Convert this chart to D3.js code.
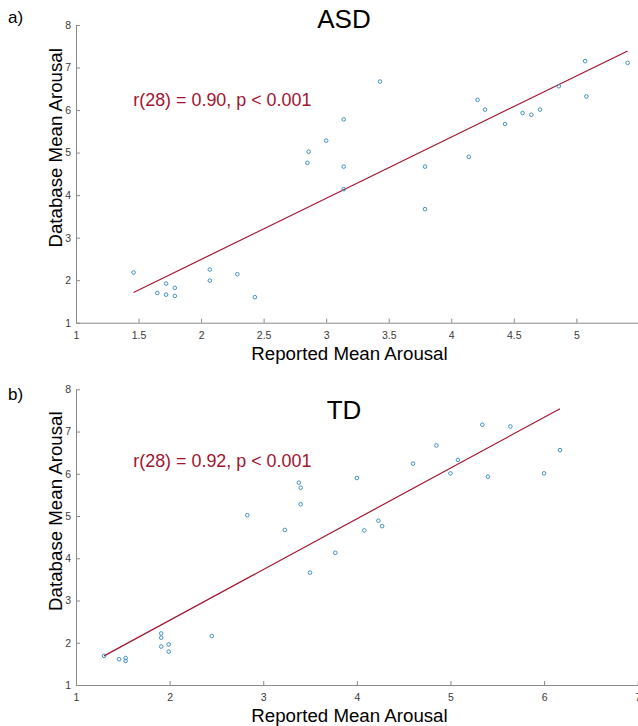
<!DOCTYPE html>
<html>
<head>
<meta charset="utf-8">
<script src="https://cdn.jsdelivr.net/npm/d3@7"></script>
<style>
  body { margin: 0; background: #fff; }
  svg { display: block; font-family: "Liberation Sans", Arial, sans-serif; }
</style>
</head>
<body>
<div id="main"></div>
<script>
// values
let asdReported = [1.46, 1.72, 1.65, 1.72, 1.79, 1.79, 2.07, 2.07, 2.29, 2.43,
  2.85, 2.86, 3.00, 3.14, 3.14, 3.14, 3.43, 3.79, 3.79, 4.14,
  4.21, 4.27, 4.43, 4.57, 4.64, 4.71, 4.86, 5.07, 5.08, 5.41];
let asdDatabase = [2.18, 1.92, 1.70, 1.66, 1.82, 1.63, 2.25, 1.99, 2.14, 1.60,
  4.76, 5.02, 5.28, 5.78, 4.67, 4.14, 6.67, 4.67, 3.67, 4.90,
  6.24, 6.01, 5.67, 5.93, 5.89, 6.01, 6.56, 7.15, 6.32, 7.11];
let asdFitX = [1.46, 5.41];
let asdFitY = [1.71, 7.39];

let tdReported = [1.30, 1.46, 1.53, 1.53, 1.91, 1.91, 1.91, 1.99, 1.99, 2.45,
  2.83, 3.23, 3.38, 3.40, 3.40, 3.50, 3.77, 4.00, 4.08, 4.23,
  4.27, 4.60, 4.85, 5.00, 5.08, 5.34, 5.40, 5.64, 6.00, 6.17];
let tdDatabase = [1.69, 1.61, 1.64, 1.57, 2.22, 2.12, 1.91, 1.96, 1.79, 2.16,
  5.02, 4.67, 5.79, 5.67, 5.28, 3.66, 4.13, 5.90, 4.66, 4.89,
  4.76, 6.24, 6.67, 6.01, 6.33, 7.16, 5.93, 7.12, 6.01, 6.56];
let tdFitX = [1.30, 6.17];
let tdFitY = [1.69, 7.54];

let asdXTicks = [1, 1.5, 2, 2.5, 3, 3.5, 4, 4.5, 5];
let tdXTicks = [1, 2, 3, 4, 5, 6, 7];
let yTicks = [1, 2, 3, 4, 5, 6, 7, 8];

let panels = [
  {tag: 'a)', title: 'ASD', stat: 'r(28) = 0.90, p < 0.001',
   xs: asdReported, ys: asdDatabase, fx: asdFitX, fy: asdFitY,
   xDomain: [1, 5.5], xTicks: asdXTicks, top: 25, bottom: 322.7, titleY: 28.3, tagY: 23, statY: 105.7},
  {tag: 'b)', title: 'TD', stat: 'r(28) = 0.92, p < 0.001',
   xs: tdReported, ys: tdDatabase, fx: tdFitX, fy: tdFitY,
   xDomain: [1, 7], xTicks: tdXTicks, top: 389.3, bottom: 685, titleY: 419.3, tagY: 400, statY: 467.3},
];

let [width, height] = [638, 726];
let svg = d3.select('#main').append('svg')
  .attr('width', width)
  .attr('height', height);

let axisColor = '#8a8a8a';
let red = '#a2142f';
let blue = '#2f86bd';
let fmt = d3.format('');

for (let p of panels) {
  let sx = d3.scaleLinear().domain(p.xDomain).range([76, p.xDomain[1] == 7 ? 637.7 : 638.9]);
  let sy = d3.scaleLinear().domain([1, 8]).range([p.bottom, p.top]);
  let g = svg.append('g');

  let xAxis = g.append('g')
    .attr('transform', `translate(0,${p.bottom})`)
    .call(d3.axisBottom(sx).tickValues(p.xTicks).tickFormat(fmt).tickSizeInner(-4).tickSizeOuter(0).tickPadding(8.5));
  let yAxis = g.append('g')
    .attr('transform', `translate(76,0)`)
    .call(d3.axisLeft(sy).tickValues(yTicks).tickFormat(fmt).tickSizeInner(-4).tickSizeOuter(0).tickPadding(5));

  for (let ax of [xAxis, yAxis]) {
    ax.select('.domain').attr('stroke', axisColor);
    ax.selectAll('.tick line').attr('stroke', axisColor);
    ax.selectAll('.tick text')
      .attr('fill', '#3a3a3a')
      .style('font-size', '10.5px')
      .style('font-family', '"Liberation Sans", Arial, sans-serif');
  }

  // regression line
  g.append('line')
    .attr('x1', sx(p.fx[0])).attr('y1', sy(p.fy[0]))
    .attr('x2', sx(p.fx[1])).attr('y2', sy(p.fy[1]))
    .attr('stroke', red)
    .attr('stroke-width', 1.2);

  g.selectAll('.pt')
    .data(d3.range(p.xs.length))
    .join('circle')
    .attr('class', 'pt')
    .attr('cx', i => sx(p.xs[i]))
    .attr('cy', i => sy(p.ys[i]))
    .attr('r', 1.8)
    .attr('fill', 'none')
    .attr('stroke', blue)
    .attr('stroke-width', 0.9);

  g.append('text')
    .attr('x', 344).attr('y', p.titleY)
    .attr('text-anchor', 'middle')
    .style('font-size', '26px')
    .text(p.title);

  g.append('text')
    .attr('x', 8).attr('y', p.tagY)
    .style('font-size', '17px')
    .text(p.tag);

  g.append('text')
    .attr('x', 133.3).attr('y', p.statY)
    .attr('fill', red)
    .style('font-size', '17.9px')
    .text(p.stat);

  g.append('text')
    .attr('x', 349.5).attr('y', p.bottom + 37.3)
    .attr('text-anchor', 'middle')
    .style('font-size', '18.7px')
    .text('Reported Mean Arousal');

  let yMid = p.top + (p.bottom - p.top) / 2 - 26;
  g.append('text')
    .attr('transform', `translate(62,${yMid}) rotate(-90)`)
    .attr('text-anchor', 'middle')
    .style('font-size', '18.7px')
    .text('Database Mean Arousal');
}
</script>
</body>
</html>
